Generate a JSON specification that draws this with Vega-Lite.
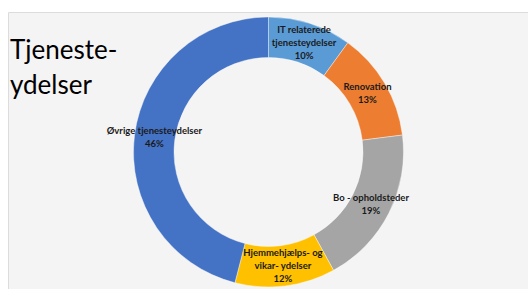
{
  "$schema": "https://vega.github.io/schema/vega-lite/v6.json",
  "autosize": "none",
  "width": 521,
  "height": 280,
  "padding": {"left": 8, "top": 12, "right": 0, "bottom": 0},
  "background": "#ffffff",
  "view": {"fill": "#f4f4f4", "stroke": "#dcdcdc", "strokeWidth": 1},
  "title": {
    "text": ["Tjeneste-", "ydelser"],
    "anchor": "start",
    "frame": "group",
    "orient": "top",
    "baseline": "top",
    "offset": -87,
    "dx": 2,
    "font": "Lato",
    "fontSize": 26,
    "fontWeight": "normal",
    "color": "#000000",
    "lineHeight": 35
  },
  "data": {
    "values": [
      {"rank": 1, "category": "IT relaterede tjenesteydelser", "value": 10, "label": "IT relaterede\ntjenesteydelser\n10%"},
      {"rank": 2, "category": "Renovation", "value": 13, "label": "Renovation\n13%"},
      {"rank": 3, "category": "Bo - opholdsteder", "value": 19, "label": "Bo - opholdsteder\n19%"},
      {"rank": 4, "category": "Hjemmehjælps- og vikar- ydelser", "value": 12, "label": "Hjemmehjælps- og\nvikar- ydelser\n12%"},
      {"rank": 5, "category": "Øvrige tjenesteydelser", "value": 46, "label": "Øvrige tjenesteydelser\n46%"}
    ]
  },
  "encoding": {
    "theta": {"field": "value", "type": "quantitative", "stack": true},
    "order": {"field": "rank", "type": "quantitative"}
  },
  "layer": [
    {
      "mark": {"type": "arc", "outerRadius": 135, "innerRadius": 94.5, "stroke": "#ffffff", "strokeWidth": 0.4},
      "encoding": {
        "color": {
          "field": "category",
          "type": "nominal",
          "scale": {
            "domain": ["IT relaterede tjenesteydelser", "Renovation", "Bo - opholdsteder", "Hjemmehjælps- og vikar- ydelser", "Øvrige tjenesteydelser"],
            "range": ["#5b9bd5", "#ed7d31", "#a5a5a5", "#ffc000", "#4472c4"]
          },
          "legend": null
        }
      }
    },
    {
      "mark": {"type": "text", "radius": 115, "font": "Lato", "fontSize": 9.5, "fontWeight": "bold", "color": "#1a1a1a", "lineBreak": "\n", "lineHeight": 13, "align": "center", "baseline": "middle", "dy": {"expr": "-6.5*(length(split(datum.label, '\\n'))-1)"}},
      "encoding": {
        "text": {"field": "label", "type": "nominal"}
      }
    }
  ]
}
